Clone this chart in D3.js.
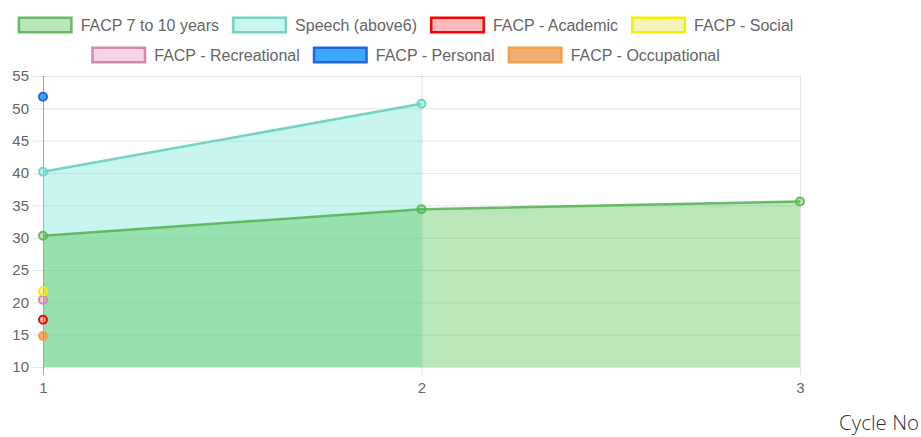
<!DOCTYPE html>
<html>
<head>
<meta charset="utf-8">
<script src="https://cdn.jsdelivr.net/npm/d3@7"></script>
<style>
  html, body { margin: 0; padding: 0; background: #fff; }
  svg { display: block; }
</style>
</head>
<body>
<svg id="chart" width="921" height="437"></svg>
<script>
// ---- data ----
const cycles = [1, 2, 3];
const seriesNames = ["FACP 7 to 10 years", "Speech (above6)", "FACP - Academic", "FACP - Social",
                     "FACP - Recreational", "FACP - Personal", "FACP - Occupational"];
const facp7to10 = [30.3, 34.4, 35.6];
const speech = [40.2, 50.7];
const academic = [17.3];
const social = [21.7];
const recreational = [20.4];
const personal = [51.8];
const occupational = [14.8];
const yTicks = [10, 15, 20, 25, 30, 35, 40, 45, 50, 55];
const xTicks = [1, 2, 3];
const xTitle = "Cycle No";

// ---- styles ----
const styles = [
  { fill: "rgba(80,195,80,0.4)",  stroke: "rgba(90,180,90,0.9)",  area: true },
  { fill: "rgba(110,228,212,0.38)", stroke: "rgb(115,212,196)", area: true },
  { fill: "rgba(255,60,60,0.35)", stroke: "rgb(255,0,0)", area: false },
  { fill: "rgba(225,225,80,0.4)", stroke: "rgb(245,240,0)", area: false },
  { fill: "rgba(225,130,195,0.35)", stroke: "rgb(215,135,170)", area: false },
  { fill: "rgba(40,160,250,0.9)", stroke: "rgb(35,100,225)", area: false },
  { fill: "rgba(235,145,70,0.75)", stroke: "rgb(245,160,70)", area: false }
];
const seriesValues = [facp7to10, speech, academic, social, recreational, personal, occupational];
const datasets = seriesNames.map((name, i) => ({
  name, values: seriesValues[i].map((v, j) => ({ x: cycles[j], y: v })), style: styles[i]
}));

(function () {
const svg = d3.select("#chart");
const pL = 43, pR = 800, pT = 76, pB = 367;

const x = d3.scaleLinear().domain([1, 3]).range([pL, pR]);
const y = d3.scaleLinear().domain([10, 55]).range([pB, pT]);

// ---- gridlines & axes ----
const gy = svg.append("g").attr("transform", `translate(${pL - 10},0)`)
  .call(d3.axisLeft(y).tickValues(yTicks).tickSize(0).tickPadding(4).tickFormat(d3.format("d")));
gy.select(".domain").remove();
gy.selectAll("text").attr("font-family", "'Liberation Sans', Arial, sans-serif").attr("font-size", 15).attr("fill", "#666");

const gridY = svg.append("g").attr("transform", `translate(${pL - 10},0)`)
  .call(d3.axisRight(y).tickValues(yTicks).tickSize(pR - pL + 10).tickFormat(""));
gridY.select(".domain").remove();
gridY.selectAll("line").attr("stroke", "rgba(0,0,0,0.1)").attr("stroke-width", 1);

const gridX = svg.append("g").attr("transform", `translate(0,${pT})`)
  .call(d3.axisBottom(x).tickValues(xTicks).tickSize(pB - pT + 8).tickFormat(""));
gridX.select(".domain").remove();
gridX.selectAll("line").attr("stroke", (d, i) => i === 0 ? "rgba(0,0,0,0.35)" : "rgba(0,0,0,0.1)");

const gx = svg.append("g").attr("transform", `translate(0,${pB + 8})`)
  .call(d3.axisBottom(x).tickValues(xTicks).tickSize(0).tickPadding(7).tickFormat(d3.format("d")));
gx.select(".domain").remove();
gx.selectAll("text").attr("font-family", "'Liberation Sans', Arial, sans-serif").attr("font-size", 15).attr("fill", "#666");

// ---- series: fills first (reverse order), then lines and points ----
svg.append("defs").append("clipPath").attr("id", "clip")
  .append("rect").attr("x", pL).attr("y", pT).attr("width", pR - pL).attr("height", pB - pT);

const area = d3.area().x(d => x(d.x)).y0(y(10)).y1(d => y(d.y));
const line = d3.line().x(d => x(d.x)).y(d => y(d.y));
const rev = datasets.slice().reverse();

const fills = svg.append("g");
rev.forEach(ds => {
  if (ds.style.area && ds.values.length > 1) {
    fills.append("path").datum(ds.values).attr("d", area)
      .attr("fill", ds.style.fill).attr("clip-path", "url(#clip)");
  }
});

rev.forEach(ds => {
  const g = svg.append("g");
  if (ds.style.area && ds.values.length > 1) {
    g.append("path").datum(ds.values).attr("d", line)
      .attr("fill", "none").attr("stroke", ds.style.stroke).attr("stroke-width", 2.5);
  }
  g.selectAll("circle").data(ds.values).join("circle")
    .attr("cx", d => x(d.x)).attr("cy", d => y(d.y)).attr("r", 4)
    .attr("fill", ds.style.fill).attr("stroke", ds.style.stroke).attr("stroke-width", 2);
});

// ---- legend ----
const legendFont = "'Liberation Sans', Arial, sans-serif";
const rows = [[0, 1, 2, 3], [4, 5, 6]];
const rowY = [25, 55];
const boxW = 55, boxH = 17, gapBoxText = 8, itemGap = 13, center = 405.5;
const measure = svg.append("text").attr("font-family", legendFont).attr("font-size", 16).attr("visibility", "hidden");
rows.forEach((row, ri) => {
  const widths = row.map(i => { measure.text(seriesNames[i]); return measure.node().getComputedTextLength(); });
  const total = widths.reduce((a, w) => a + boxW + gapBoxText + w, 0) + itemGap * (row.length - 1);
  let cx = center - total / 2;
  row.forEach((i, k) => {
    const st = datasets[i].style;
    svg.append("rect").attr("x", cx + 1.25).attr("y", rowY[ri] - boxH / 2 + 1.25)
      .attr("width", boxW - 2.5).attr("height", boxH - 2.5)
      .attr("fill", st.fill).attr("stroke", st.stroke).attr("stroke-width", 2.5);
    svg.append("text").attr("x", cx + boxW + gapBoxText).attr("y", rowY[ri])
      .attr("dominant-baseline", "central")
      .attr("font-family", legendFont).attr("font-size", 16).attr("fill", "#666")
      .text(seriesNames[i]);
    cx += boxW + gapBoxText + widths[k] + itemGap;
  });
});
measure.remove();

// ---- x title ----
svg.append("text").attr("x", 919).attr("y", 430).attr("text-anchor", "end")
  .attr("font-family", "'Open Sans', sans-serif").attr("font-weight", 300).attr("font-size", 20.5).attr("fill", "#333")
  .text(xTitle);
})();
</script>
</body>
</html>
